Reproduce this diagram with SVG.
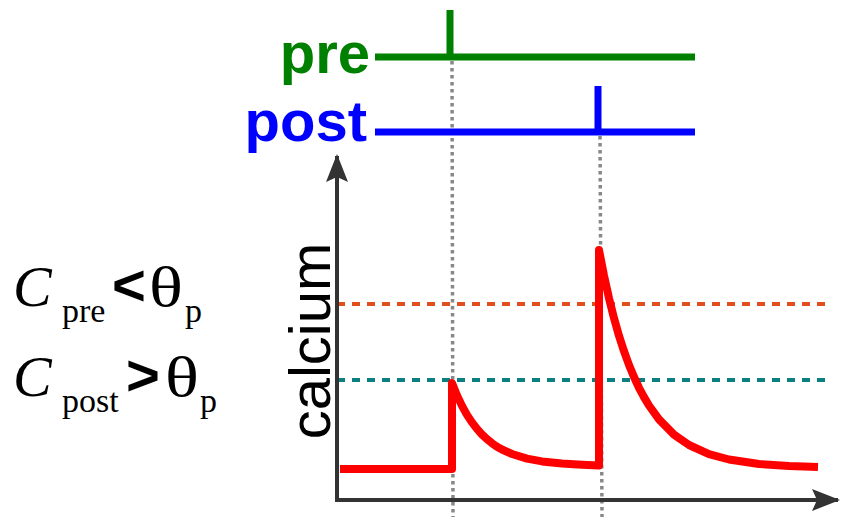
<svg xmlns="http://www.w3.org/2000/svg" width="848" height="517" viewBox="0 0 848 517">
<style>
.serif{font-family:"Liberation Serif","Times New Roman",serif;fill:#000}
.big{font-size:58px}
.sub{font-size:34px}
.op{font-family:"Liberation Sans",Arial,sans-serif;font-weight:bold;font-size:58px;fill:#000}
.lbl{font-family:"Liberation Sans",Arial,sans-serif;font-weight:bold;font-size:58px}
.axis{stroke:#333;stroke-width:4;fill:none}
.vdot{stroke:#888;stroke-width:3.5;stroke-dasharray:3.5 3.5;fill:none}
.thr{stroke-width:4;stroke-dasharray:8 7;fill:none}
.trace{stroke-width:7;fill:none;stroke-linecap:butt;stroke-linejoin:miter}
.ca{stroke:#ff0000;stroke-width:8;fill:none;stroke-linejoin:round;stroke-linecap:butt}
</style>
<defs>
<marker id="arr" viewBox="0 0 30 24" refX="26" refY="12" markerWidth="30" markerHeight="24" markerUnits="userSpaceOnUse" orient="auto">
<path d="M0,1 L28,12 L0,23 L5,12 Z" fill="#333"/>
</marker>
</defs>
<g id="connectors">
<line class="vdot" x1="452" y1="61" x2="453" y2="517"/>
<line class="vdot" x1="600" y1="136" x2="602" y2="517"/>
<line class="thr" x1="337" y1="304" x2="825" y2="304" stroke="#e0501c"/>
<line class="thr" x1="337" y1="380" x2="825" y2="380" stroke="#0b8080"/>
<line class="axis" x1="337" y1="500" x2="337" y2="156" marker-end="url(#arr)"/>
<line class="axis" x1="335" y1="500" x2="838" y2="500" marker-end="url(#arr)"/>
</g>
<g id="pre-trace">
<path class="trace" d="M375,57 L695,57 M450,60 L450,10" stroke="#008000"/>
<text class="lbl" x="370" y="73" text-anchor="end" fill="#008000">pre</text>
</g>
<g id="post-trace">
<path class="trace" d="M375,132 L695,132 M598,135 L598,86" stroke="#0000ff"/>
<text class="lbl" x="367" y="141" text-anchor="end" fill="#0000ff">post</text>
</g>
<g id="calcium-curve">
<path class="ca" d="M340,469 L452,469 L452,383 L457,395.4 L462,405.9 L467,414.9 L472,422.4 L477,428.9 L482,434.5 L487,439.2 L492,443.2 L497,446.7 L502,449.5 L512,454 L527,458.6 L542,461.4 L562,463.6 L582,464.7 L599,465.5 L599,250 L604,275.6 L609,298.2 L614,318.2 L619,335.8 L624,351.2 L629,365 L634,377 L639,387.8 L644,397.1 L649,405.5 L659,419.4 L674,434.6 L689,445 L709,454.1 L729,459.5 L759,464 L789,466.1 L818,467.1"/>
</g>
<g id="calcium-label">
<text transform="translate(330,341) rotate(-90)" text-anchor="middle" font-family="Liberation Sans, Arial, sans-serif" font-size="58" fill="#000">calcium</text>
</g>
<g id="cond-pre">
<text class="serif big" x="13" y="306" font-style="italic">C</text>
<text class="serif sub" x="62" y="322">pre</text>
<text class="op" x="112" y="305">&lt;</text>
<text class="serif big" transform="translate(149,306) scale(1.22,1)">θ</text>
<text class="serif sub" x="185" y="322">p</text>
</g>
<g id="cond-post">
<text class="serif big" x="13" y="396" font-style="italic">C</text>
<text class="serif sub" x="62" y="412">post</text>
<text class="op" x="126" y="395">&gt;</text>
<text class="serif big" transform="translate(165,396) scale(1.22,1)">θ</text>
<text class="serif sub" x="200" y="412">p</text>
</g>
</svg>
